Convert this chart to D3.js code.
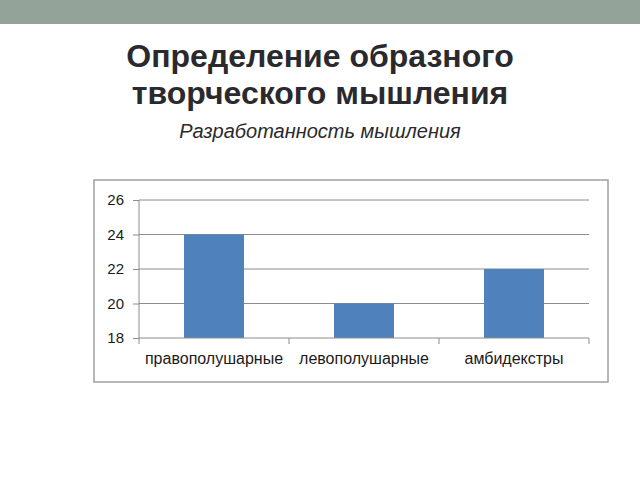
<!DOCTYPE html>
<html lang="ru">
<head>
    <meta charset="UTF-8">
    <script src="https://d3js.org/d3.v7.min.js" charset="utf-8"></script>
    <title>Разработанность мышления</title>
    <style>
        body { margin: 0; background: white; }
        svg { display: block; }
    </style>
</head>
<body>
    <div class="fig"></div>

    <script>
        const svgWidth = 640;
        const svgHeight = 480;

        // chart data
        const categories = ["правополушарные", "левополушарные", "амбидекстры"];
        const values = [24, 20, 22];
        const yTicks = [18, 20, 22, 24, 26];

        const titleLines = ["Определение образного", "творческого мышления"];
        const subtitle = "Разработанность мышления";

        const svg = d3.select(".fig").append("svg")
            .attr("width", svgWidth)
            .attr("height", svgHeight);

        // slide header band
        svg.append("rect")
            .attr("x", 0).attr("y", 0)
            .attr("width", svgWidth).attr("height", 24)
            .attr("fill", "#94a39a");

        // title
        svg.selectAll("text.title")
            .data(titleLines)
            .enter()
            .append("text")
            .attr("class", "title")
            .attr("x", 320)
            .attr("y", (d, i) => 67 + i * 37)
            .attr("text-anchor", "middle")
            .attr("font-family", "Liberation Sans, Arial, sans-serif")
            .attr("font-weight", "bold")
            .attr("font-size", 32)
            .attr("fill", "#2a2a2e")
            .text(d => d);

        svg.append("text")
            .attr("x", 320)
            .attr("y", 138)
            .attr("text-anchor", "middle")
            .attr("font-family", "Liberation Sans, Arial, sans-serif")
            .attr("font-style", "italic")
            .attr("font-size", 20)
            .attr("fill", "#2a2a2e")
            .text(subtitle);

        // chart frame
        svg.append("rect")
            .attr("x", 94).attr("y", 180)
            .attr("width", 514).attr("height", 202)
            .attr("fill", "white")
            .attr("stroke", "#a0a0a0")
            .attr("stroke-width", 1.5);

        // plot area
        const plot = { left: 139, right: 589, top: 200, bottom: 338 };

        const x = d3.scaleBand()
            .domain(categories)
            .range([plot.left, plot.right]);

        const y = d3.scaleLinear()
            .domain([18, 26])
            .range([plot.bottom, plot.top]);

        const g = svg.append("g");

        // gridlines
        g.selectAll("line.grid")
            .data(yTicks.filter(t => t !== 18))
            .enter()
            .append("line")
            .attr("x1", plot.left).attr("x2", plot.right)
            .attr("y1", d => y(d)).attr("y2", d => y(d))
            .attr("stroke", "#8c8c8c")
            .attr("stroke-width", 1);

        // bars
        const barWidth = x.bandwidth() * 0.4;
        g.selectAll("rect.bar")
            .data(values)
            .enter()
            .append("rect")
            .attr("class", "bar")
            .attr("x", (d, i) => x(categories[i]) + (x.bandwidth() - barWidth) / 2)
            .attr("y", d => y(d))
            .attr("width", barWidth)
            .attr("height", d => y(18) - y(d))
            .attr("fill", "#4f81bd");

        // y axis
        const yAxis = d3.axisLeft(y)
            .tickValues(yTicks)
            .tickSize(6)
            .tickPadding(9);
        const yg = svg.append("g")
            .attr("transform", `translate(${plot.left},0)`)
            .call(yAxis);
        yg.select(".domain").attr("stroke", "#8c8c8c").attr("d", `M0,${plot.top}V${plot.bottom}`);
        yg.selectAll(".tick line").attr("stroke", "#8c8c8c");
        yg.selectAll(".tick text")
            .attr("font-family", "Liberation Sans, Arial, sans-serif")
            .attr("font-size", 15)
            .attr("fill", "#1a1a1a");

        // x axis
        const xAxis = d3.axisBottom(x)
            .tickSize(0)
            .tickPadding(15);
        const xg = svg.append("g")
            .attr("transform", `translate(0,${plot.bottom})`)
            .call(xAxis);
        xg.select(".domain").attr("stroke", "#8c8c8c").attr("d", `M${plot.left},0H${plot.right}`);
        xg.selectAll(".tick text")
            .attr("font-family", "Liberation Sans, Arial, sans-serif")
            .attr("font-size", 16)
            .attr("fill", "#1a1a1a");

        // category boundary ticks
        const boundaries = categories.map(c => x(c)).concat([plot.right]);
        xg.selectAll("line.sep")
            .data(boundaries)
            .enter()
            .append("line")
            .attr("x1", d => d).attr("x2", d => d)
            .attr("y1", 0).attr("y2", 6)
            .attr("stroke", "#8c8c8c");
    </script>
</body>
</html>
